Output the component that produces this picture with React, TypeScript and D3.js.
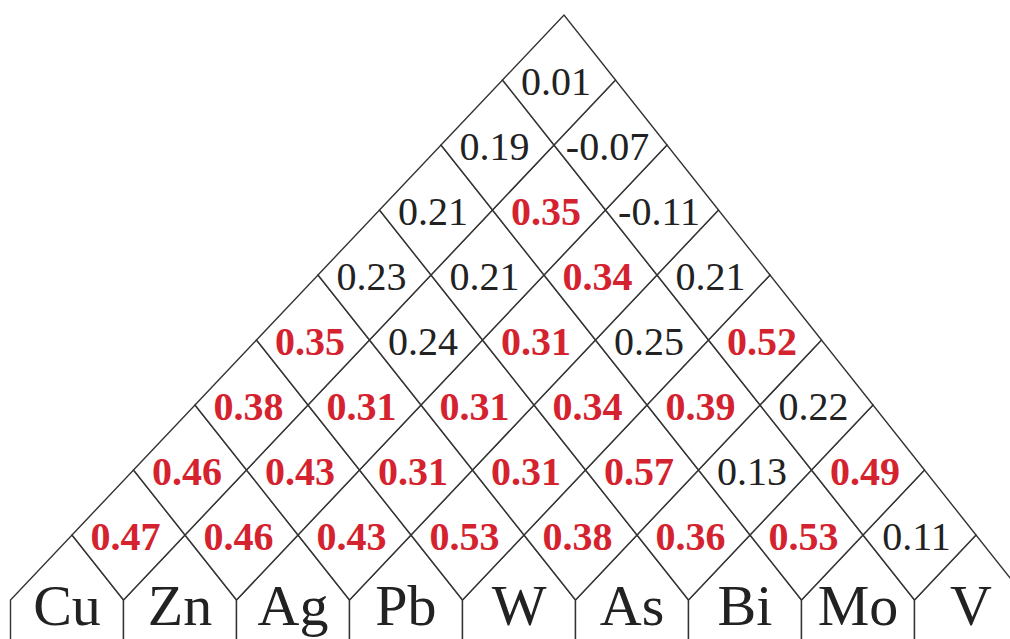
import React from "react";
import * as d3 from "d3";

// Elements (bottom labels)
const elements = ["Cu", "Zn", "Ag", "Pb", "W", "As", "Bi", "Mo", "V"];

// Correlation coefficients, grouped by distance between the two elements
// lag1[j] = r(elements[j], elements[j+1]), lag2[j] = r(elements[j], elements[j+2]), ...
const lag1 = [0.47, 0.46, 0.43, 0.53, 0.38, 0.36, 0.53, 0.11];
const lag2 = [0.46, 0.43, 0.31, 0.31, 0.57, 0.13, 0.49];
const lag3 = [0.38, 0.31, 0.31, 0.34, 0.39, 0.22];
const lag4 = [0.35, 0.24, 0.31, 0.25, 0.52];
const lag5 = [0.23, 0.21, 0.34, 0.21];
const lag6 = [0.21, 0.35, -0.11];
const lag7 = [0.19, -0.07];
const lag8 = [0.01];
const lags = [lag1, lag2, lag3, lag4, lag5, lag6, lag7, lag8];

const threshold = 0.3;

const W = 1010;
const H = 639;

export default function App() {
  const n = elements.length;
  // lattice: u in half-cell units horizontally, v in half-cell units vertically
  const xScale = d3.scaleLinear().domain([0, 2 * n]).range([10.5, 1027.5]);
  const yScale = d3.scaleLinear().domain([0, 9]).range([600, 15]);
  const shear = 5;
  const pt = (u: number, v: number): [number, number] => [
    xScale(u) + shear * v,
    yScale(v),
  ];
  const line = d3.line();

  const cells: { u: number; v: number; value: number; key: string }[] = [];
  lags.forEach((row, k) => {
    const r = k + 1;
    row.forEach((value, j) => {
      cells.push({ u: 2 * j + 1 + r, v: r, value, key: `${r}-${j}` });
    });
  });

  const stroke = "#333";
  const red = "#d4232f";

  return (
    <svg
      width={W}
      height={H}
      style={{ position: "absolute", left: 0, top: 0, background: "#fff" }}
      fontFamily="'Liberation Serif', 'Times New Roman', serif"
    >
      <rect x={0} y={0} width={W} height={H} fill="#fff" />
      {/* element label cells */}
      {elements.map((el, i) => {
        const a = pt(2 * i, 0);
        const b = pt(2 * i + 1, 1);
        const c = pt(2 * i + 2, 0);
        const d = line([
          [a[0], H + 20],
          a,
          b,
          c,
          [c[0], H + 20],
        ]);
        return (
          <g key={el}>
            <path d={d || ""} fill="#fff" stroke={stroke} strokeWidth={1.4} />
            <text
              x={xScale(2 * i + 1)}
              y={625}
              textAnchor="middle"
              fontSize={58}
              fill="#222"
            >
              {el}
            </text>
          </g>
        );
      })}
      {/* diamonds */}
      {cells.map((c) => {
        const poly = [
          pt(c.u - 1, c.v),
          pt(c.u, c.v + 1),
          pt(c.u + 1, c.v),
          pt(c.u, c.v - 1),
        ];
        const [cx, cy] = pt(c.u, c.v);
        const strong = c.value >= threshold;
        return (
          <g key={c.key}>
            <path
              d={(line(poly) || "") + "Z"}
              fill="#fff"
              stroke={stroke}
              strokeWidth={1.4}
            />
            <text
              x={cx - 3}
              y={cy + 15}
              textAnchor="middle"
              fontSize={40}
              fontWeight={strong ? "bold" : "normal"}
              fill={strong ? red : "#222"}
            >
              {c.value.toFixed(2)}
            </text>
          </g>
        );
      })}
    </svg>
  );
}
